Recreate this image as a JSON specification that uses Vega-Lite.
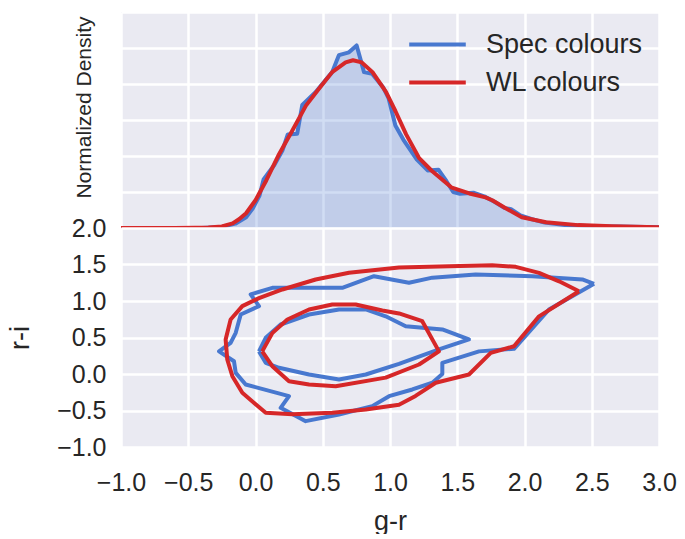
{
  "$schema": "https://vega.github.io/schema/vega-lite/v6.json",
  "background": "white",
  "padding": {"left": 6, "top": 12, "right": 5, "bottom": 0},
  "spacing": 0,
  "bounds": "flush",
  "datasets": {
    "red_kde": [
      {"gr": -1.0, "d": 0.0}, {"gr": -0.6, "d": 0.0}, {"gr": -0.45, "d": 0.005}, {"gr": -0.35, "d": 0.015},
      {"gr": -0.25, "d": 0.045}, {"gr": -0.17, "d": 0.13}, {"gr": -0.12, "d": 0.25}, {"gr": -0.07, "d": 0.41},
      {"gr": 0.0, "d": 0.77}, {"gr": 0.08, "d": 1.32}, {"gr": 0.175, "d": 2.05}, {"gr": 0.27, "d": 2.68},
      {"gr": 0.375, "d": 3.4}, {"gr": 0.47, "d": 3.86}, {"gr": 0.57, "d": 4.33}, {"gr": 0.67, "d": 4.6},
      {"gr": 0.725, "d": 4.66}, {"gr": 0.79, "d": 4.6}, {"gr": 0.87, "d": 4.33}, {"gr": 0.97, "d": 3.78},
      {"gr": 1.04, "d": 3.25}, {"gr": 1.12, "d": 2.6}, {"gr": 1.215, "d": 1.95}, {"gr": 1.31, "d": 1.59},
      {"gr": 1.46, "d": 1.12}, {"gr": 1.59, "d": 0.96}, {"gr": 1.71, "d": 0.85}, {"gr": 1.76, "d": 0.77},
      {"gr": 1.86, "d": 0.55}, {"gr": 1.98, "d": 0.3}, {"gr": 2.16, "d": 0.16}, {"gr": 2.4, "d": 0.08},
      {"gr": 2.65, "d": 0.05}, {"gr": 3.0, "d": 0.02}
    ],
    "blue_hist": [
      {"gr": -1.0, "d": 0.0}, {"gr": -0.4, "d": 0.0}, {"gr": -0.25, "d": 0.03}, {"gr": -0.15, "d": 0.12},
      {"gr": -0.07, "d": 0.3}, {"gr": -0.02, "d": 0.55}, {"gr": 0.03, "d": 0.9}, {"gr": 0.06, "d": 1.35},
      {"gr": 0.09, "d": 1.5}, {"gr": 0.14, "d": 1.75}, {"gr": 0.2, "d": 2.15}, {"gr": 0.24, "d": 2.6},
      {"gr": 0.31, "d": 2.62}, {"gr": 0.348, "d": 3.42}, {"gr": 0.448, "d": 3.78}, {"gr": 0.57, "d": 4.33},
      {"gr": 0.62, "d": 4.8}, {"gr": 0.695, "d": 4.88}, {"gr": 0.752, "d": 5.07}, {"gr": 0.807, "d": 4.33},
      {"gr": 0.868, "d": 4.28}, {"gr": 0.95, "d": 3.9}, {"gr": 0.99, "d": 3.6}, {"gr": 1.04, "d": 2.85},
      {"gr": 1.1, "d": 2.45}, {"gr": 1.2, "d": 1.9}, {"gr": 1.28, "d": 1.6}, {"gr": 1.36, "d": 1.62},
      {"gr": 1.42, "d": 1.3}, {"gr": 1.47, "d": 1.0}, {"gr": 1.52, "d": 0.95}, {"gr": 1.62, "d": 0.98},
      {"gr": 1.7, "d": 0.88}, {"gr": 1.78, "d": 0.72}, {"gr": 1.85, "d": 0.56}, {"gr": 1.9, "d": 0.52},
      {"gr": 1.97, "d": 0.35}, {"gr": 2.05, "d": 0.25}, {"gr": 2.15, "d": 0.15}, {"gr": 2.3, "d": 0.08},
      {"gr": 2.5, "d": 0.05}, {"gr": 2.7, "d": 0.04}, {"gr": 3.0, "d": 0.02}
    ],
    "legend_rows": [
      {"series": "Spec colours", "gr": -1.0, "d": 0.0},
      {"series": "WL colours", "gr": -1.0, "d": 0.0}
    ],
    "blue_contours": [
      {"level": "outer", "ord": 1, "gr": 2.517, "ri": 1.235}, {"level": "outer", "ord": 2, "gr": 2.43, "ri": 1.295},
      {"level": "outer", "ord": 3, "gr": 2.058, "ri": 1.34}, {"level": "outer", "ord": 4, "gr": 1.637, "ri": 1.363},
      {"level": "outer", "ord": 5, "gr": 1.315, "ri": 1.32}, {"level": "outer", "ord": 6, "gr": 1.141, "ri": 1.25},
      {"level": "outer", "ord": 7, "gr": 0.881, "ri": 1.34}, {"level": "outer", "ord": 8, "gr": 0.645, "ri": 1.18},
      {"level": "outer", "ord": 9, "gr": 0.447, "ri": 1.18}, {"level": "outer", "ord": 10, "gr": 0.125, "ri": 1.18},
      {"level": "outer", "ord": 11, "gr": -0.036, "ri": 1.09}, {"level": "outer", "ord": 12, "gr": 0.026, "ri": 0.93},
      {"level": "outer", "ord": 13, "gr": -0.11, "ri": 0.815}, {"level": "outer", "ord": 14, "gr": -0.147, "ri": 0.564},
      {"level": "outer", "ord": 15, "gr": -0.185, "ri": 0.427}, {"level": "outer", "ord": 16, "gr": -0.271, "ri": 0.31},
      {"level": "outer", "ord": 17, "gr": -0.16, "ri": 0.175}, {"level": "outer", "ord": 18, "gr": -0.147, "ri": 0.016},
      {"level": "outer", "ord": 19, "gr": -0.073, "ri": -0.144}, {"level": "outer", "ord": 20, "gr": 0.249, "ri": -0.304},
      {"level": "outer", "ord": 21, "gr": 0.187, "ri": -0.463}, {"level": "outer", "ord": 22, "gr": 0.373, "ri": -0.646},
      {"level": "outer", "ord": 23, "gr": 0.621, "ri": -0.555}, {"level": "outer", "ord": 24, "gr": 0.868, "ri": -0.44},
      {"level": "outer", "ord": 25, "gr": 0.993, "ri": -0.304}, {"level": "outer", "ord": 26, "gr": 1.166, "ri": -0.212},
      {"level": "outer", "ord": 27, "gr": 1.315, "ri": -0.12}, {"level": "outer", "ord": 28, "gr": 1.389, "ri": 0.0},
      {"level": "outer", "ord": 29, "gr": 1.389, "ri": 0.153}, {"level": "outer", "ord": 30, "gr": 1.662, "ri": 0.31},
      {"level": "outer", "ord": 31, "gr": 1.922, "ri": 0.345}, {"level": "outer", "ord": 32, "gr": 2.182, "ri": 0.884},
      {"level": "outer", "ord": 33, "gr": 2.517, "ri": 1.235},
      {"level": "inner", "ord": 1, "gr": 0.026, "ri": 0.31}, {"level": "inner", "ord": 2, "gr": 0.076, "ri": 0.496},
      {"level": "inner", "ord": 3, "gr": 0.187, "ri": 0.678}, {"level": "inner", "ord": 4, "gr": 0.398, "ri": 0.815},
      {"level": "inner", "ord": 5, "gr": 0.621, "ri": 0.884}, {"level": "inner", "ord": 6, "gr": 0.82, "ri": 0.884},
      {"level": "inner", "ord": 7, "gr": 0.968, "ri": 0.79}, {"level": "inner", "ord": 8, "gr": 1.117, "ri": 0.655},
      {"level": "inner", "ord": 9, "gr": 1.389, "ri": 0.61}, {"level": "inner", "ord": 10, "gr": 1.587, "ri": 0.473},
      {"level": "inner", "ord": 11, "gr": 1.364, "ri": 0.336}, {"level": "inner", "ord": 12, "gr": 1.067, "ri": 0.14},
      {"level": "inner", "ord": 13, "gr": 0.82, "ri": -0.007}, {"level": "inner", "ord": 14, "gr": 0.621, "ri": -0.075},
      {"level": "inner", "ord": 15, "gr": 0.398, "ri": -0.007}, {"level": "inner", "ord": 16, "gr": 0.175, "ri": 0.085},
      {"level": "inner", "ord": 17, "gr": 0.076, "ri": 0.153}, {"level": "inner", "ord": 18, "gr": 0.026, "ri": 0.31}
    ],
    "red_contours": [
      {"level": "outer", "ord": 1, "gr": 2.405, "ri": 1.134}, {"level": "outer", "ord": 2, "gr": 2.257, "ri": 1.27},
      {"level": "outer", "ord": 3, "gr": 2.108, "ri": 1.386}, {"level": "outer", "ord": 4, "gr": 1.935, "ri": 1.468},
      {"level": "outer", "ord": 5, "gr": 1.76, "ri": 1.49}, {"level": "outer", "ord": 6, "gr": 1.44, "ri": 1.477},
      {"level": "outer", "ord": 7, "gr": 1.067, "ri": 1.46}, {"level": "outer", "ord": 8, "gr": 0.695, "ri": 1.386},
      {"level": "outer", "ord": 9, "gr": 0.447, "ri": 1.295}, {"level": "outer", "ord": 10, "gr": 0.2, "ri": 1.158},
      {"level": "outer", "ord": 11, "gr": 0.026, "ri": 1.04}, {"level": "outer", "ord": 12, "gr": -0.098, "ri": 0.93},
      {"level": "outer", "ord": 13, "gr": -0.185, "ri": 0.747}, {"level": "outer", "ord": 14, "gr": -0.222, "ri": 0.473},
      {"level": "outer", "ord": 15, "gr": -0.21, "ri": 0.2}, {"level": "outer", "ord": 16, "gr": -0.172, "ri": -0.03},
      {"level": "outer", "ord": 17, "gr": -0.098, "ri": -0.258}, {"level": "outer", "ord": 18, "gr": 0.076, "ri": -0.532},
      {"level": "outer", "ord": 19, "gr": 0.274, "ri": -0.55}, {"level": "outer", "ord": 20, "gr": 0.571, "ri": -0.532},
      {"level": "outer", "ord": 21, "gr": 0.82, "ri": -0.486}, {"level": "outer", "ord": 22, "gr": 1.067, "ri": -0.42},
      {"level": "outer", "ord": 23, "gr": 1.19, "ri": -0.3}, {"level": "outer", "ord": 24, "gr": 1.34, "ri": -0.12},
      {"level": "outer", "ord": 25, "gr": 1.587, "ri": -0.007}, {"level": "outer", "ord": 26, "gr": 1.749, "ri": 0.29},
      {"level": "outer", "ord": 27, "gr": 1.922, "ri": 0.38}, {"level": "outer", "ord": 28, "gr": 2.108, "ri": 0.79},
      {"level": "outer", "ord": 29, "gr": 2.405, "ri": 1.134},
      {"level": "inner", "ord": 1, "gr": 0.05, "ri": 0.31}, {"level": "inner", "ord": 2, "gr": 0.125, "ri": 0.56},
      {"level": "inner", "ord": 3, "gr": 0.237, "ri": 0.747}, {"level": "inner", "ord": 4, "gr": 0.398, "ri": 0.884},
      {"level": "inner", "ord": 5, "gr": 0.571, "ri": 0.952}, {"level": "inner", "ord": 6, "gr": 0.745, "ri": 0.952},
      {"level": "inner", "ord": 7, "gr": 0.943, "ri": 0.87}, {"level": "inner", "ord": 8, "gr": 1.067, "ri": 0.83},
      {"level": "inner", "ord": 9, "gr": 1.24, "ri": 0.723}, {"level": "inner", "ord": 10, "gr": 1.364, "ri": 0.31},
      {"level": "inner", "ord": 11, "gr": 1.216, "ri": 0.13}, {"level": "inner", "ord": 12, "gr": 0.968, "ri": -0.05},
      {"level": "inner", "ord": 13, "gr": 0.596, "ri": -0.167}, {"level": "inner", "ord": 14, "gr": 0.398, "ri": -0.144},
      {"level": "inner", "ord": 15, "gr": 0.249, "ri": -0.098}, {"level": "inner", "ord": 16, "gr": 0.125, "ri": 0.107},
      {"level": "inner", "ord": 17, "gr": 0.05, "ri": 0.31}
    ]
  },
  "vconcat": [
    {
      "width": 538,
      "height": 216,
      "layer": [
        {
          "data": {"name": "blue_hist"},
          "mark": {"type": "area", "color": "#4878CF", "opacity": 0.25},
          "encoding": {
            "x": {"field": "gr", "type": "quantitative", "scale": {"domain": [-1, 3], "nice": false, "zero": false},
                  "axis": {"values": [-1, -0.5, 0, 0.5, 1, 1.5, 2, 2.5, 3], "tickCount": 12, "labels": false, "title": null}},
            "y": {"field": "d", "type": "quantitative", "scale": {"domain": [0, 6], "nice": false},
                  "axis": {"values": [0, 1, 2, 3, 4, 5, 6], "tickCount": 10, "labels": false, "title": "Normalized Density",
                           "titleFontSize": 21, "titlePadding": 27, "titleY": 95}}
          }
        },
        {
          "data": {"name": "blue_hist"},
          "mark": {"type": "line", "color": "#4878CF", "strokeWidth": 4, "strokeJoin": "round"},
          "encoding": {
            "x": {"field": "gr", "type": "quantitative"},
            "y": {"field": "d", "type": "quantitative"}
          }
        },
        {
          "data": {"name": "red_kde"},
          "mark": {"type": "line", "color": "#D62728", "strokeWidth": 4, "strokeJoin": "round"},
          "encoding": {
            "x": {"field": "gr", "type": "quantitative"},
            "y": {"field": "d", "type": "quantitative"}
          }
        },
        {
          "data": {"name": "legend_rows"},
          "mark": {"type": "line", "strokeWidth": 0, "opacity": 0},
          "encoding": {
            "x": {"field": "gr", "type": "quantitative"},
            "y": {"field": "d", "type": "quantitative"},
            "color": {"field": "series", "type": "nominal",
              "scale": {"domain": ["Spec colours", "WL colours"], "range": ["#4878CF", "#D62728"]},
              "legend": {"title": null, "orient": "top-right", "offset": 16, "symbolType": "M-2,0H2", "symbolSize": 800,
                "symbolStrokeWidth": 4, "symbolOpacity": 1, "labelFontSize": 27, "labelFont": "Liberation Sans", "labelColor": "#262626",
                "labelOffset": 32, "padding": 0, "rowPadding": 8}
            }
          }
        }
      ]
    },
    {
      "width": 538,
      "height": 219,
      "layer": [
        {
          "data": {"name": "blue_contours"},
          "mark": {"type": "line", "color": "#4878CF", "strokeWidth": 4, "strokeJoin": "round"},
          "encoding": {
            "x": {"field": "gr", "type": "quantitative", "scale": {"domain": [-1, 3], "nice": false, "zero": false},
                  "axis": {"values": [-1, -0.5, 0, 0.5, 1, 1.5, 2, 2.5, 3], "tickCount": 12, "format": ".1f", "title": "g-r", "labelPadding": 23, "titlePadding": 13}},
            "y": {"field": "ri", "type": "quantitative", "scale": {"domain": [-1, 2], "nice": false, "zero": false},
                  "axis": {"values": [-1, -0.5, 0, 0.5, 1, 1.5, 2], "tickCount": 10, "format": ".1f", "title": "r-i", "labelPadding": 15, "titlePadding": 22}},
            "detail": {"field": "level"},
            "order": {"field": "ord", "type": "quantitative"}
          }
        },
        {
          "data": {"name": "red_contours"},
          "mark": {"type": "line", "color": "#D62728", "strokeWidth": 4, "strokeJoin": "round"},
          "encoding": {
            "x": {"field": "gr", "type": "quantitative"},
            "y": {"field": "ri", "type": "quantitative"},
            "detail": {"field": "level"},
            "order": {"field": "ord", "type": "quantitative"}
          }
        }
      ]
    }
  ],
  "resolve": {"scale": {"color": "independent"}, "legend": {"color": "independent"}},
  "config": {
    "view": {"fill": "#EAEAF2", "stroke": null},
    "axis": {
      "domain": false, "ticks": false, "tickSize": 0, "grid": true, "gridColor": "#FFFFFF", "gridWidth": 2.5,
      "labelFont": "Liberation Sans", "labelFontSize": 25, "labelColor": "#262626", "labelFlush": false, "labelOverlap": false,
      "titleFont": "Liberation Sans", "titleFontSize": 27, "titleFontWeight": "normal", "titleColor": "#262626"
    }
  }
}
